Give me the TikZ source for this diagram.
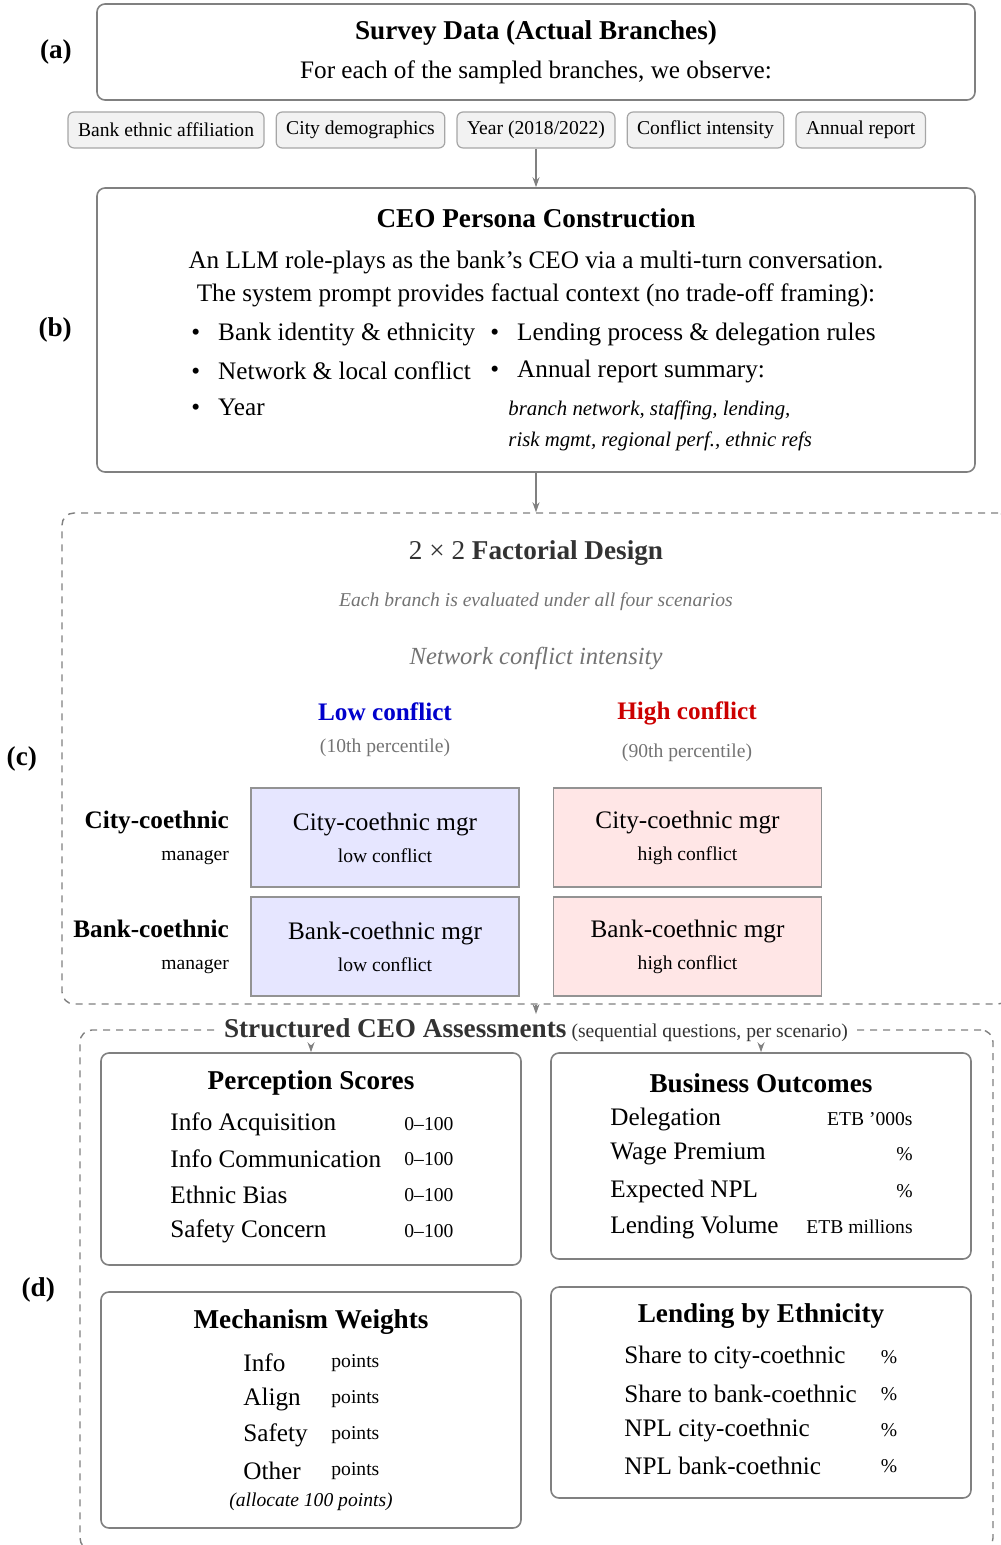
\documentclass[tikz,border=0pt]{standalone}
\usepackage{fontspec}
\setmainfont{Liberation Serif}
\usetikzlibrary{positioning,arrows.meta}
\definecolor{lowblue}{RGB}{0,0,204}
\definecolor{highred}{RGB}{204,0,0}
\definecolor{lowfill}{RGB}{230,230,255}
\definecolor{highfill}{RGB}{255,230,230}
\definecolor{edgegray}{RGB}{128,128,128}
\definecolor{chipfill}{RGB}{242,242,242}
\definecolor{darktext}{RGB}{51,51,51}
\definecolor{softtext}{RGB}{115,115,115}
\newcommand{\titlesize}{\fontsize{13.6}{16}\selectfont}
\newcommand{\bodysize}{\fontsize{12.6}{15}\selectfont}
\newcommand{\notesize}{\fontsize{9.8}{12}\selectfont}
\newcommand{\summsize}{\fontsize{10.4}{12.5}\selectfont}

\begin{document}
\begin{tikzpicture}[x=0.5pt, y=-0.5pt,
    panel/.style={draw=edgegray, line width=0.8pt, rounded corners=4pt},
    chip/.style={draw=edgegray!70, fill=chipfill, line width=0.6pt, rounded corners=3pt, inner xsep=5pt, minimum height=18pt, font=\notesize},
    cell/.style={draw=edgegray!85, line width=0.8pt, minimum width=134pt, minimum height=49.5pt, align=center, font=\bodysize},
    zone/.style={draw=edgegray, dash pattern=on 3.5pt off 3pt, line width=0.7pt, rounded corners=6pt},
    tag/.style={font=\titlesize\bfseries, inner sep=0pt},
    head/.style={font=\titlesize\bfseries, yshift=-1.5pt},
    body/.style={font=\bodysize, yshift=-1pt},
    note/.style={font=\notesize},
    item/.style={font=\bodysize, anchor=west, inner sep=0pt},
    rowlab/.style={font=\bodysize, align=right, inner sep=0pt},
    arr/.style={-{Stealth[length=5pt,width=3.5pt]}, draw=edgegray, line width=0.7pt}]
      \useasboundingbox (0,0) rectangle (1000,1545);

      % Survey data
      \node[panel, minimum width=439pt, minimum height=48pt] (survey) at (536,52) {};
      \node[head] (surveytitle) at (536,30) {Survey Data (Actual Branches)};
      \node[body] (surveytext) at (536,70) {For each of the sampled branches, we observe:};
      \node[tag, left=12pt of survey] (taga) {(a)};

      % Observed inputs
      \node[chip] (chipyear) at (536,130) {Year (2018/2022)};
      \node[chip, left=5.5pt of chipyear] (chipcity) {City demographics};
      \node[chip, left=5.5pt of chipcity] (chipbank) {Bank ethnic affiliation};
      \node[chip, right=5.5pt of chipyear] (chipconf) {Conflict intensity};
      \node[chip, right=5.5pt of chipconf] (chipreport) {Annual report};

      % CEO persona
      \node[panel, minimum width=439pt, minimum height=142pt] (persona) at (536,330) {};
      \node[head] (personatitle) at (536,215) {CEO Persona Construction};
      \node[body] (personaone) at (536,260) {An LLM role-plays as the bank’s CEO via a multi-turn conversation.};
      \node[body] (personatwo) at (536,293) {The system prompt provides factual context (no trade-off framing):};
      \node[item] (itemid) at (191,334) {\textbullet\hspace{9pt}Bank identity \& ethnicity};
      \node[item] (itemnet) at (191,371) {\textbullet\hspace{9pt}Network \& local conflict};
      \node[item] (itemyear) at (191,407) {\textbullet\hspace{9pt}Year};
      \node[item] (itemlend) at (490,334) {\textbullet\hspace{9pt}Lending process \& delegation rules};
      \node[item] (itemrep) at (490,371) {\textbullet\hspace{9pt}Annual report summary:};
      \node[item, font=\summsize\itshape] (repone) at (508,410) {branch network, staffing, lending,};
      \node[item, font=\summsize\itshape] (reptwo) at (508,441) {risk mgmt, regional perf., ethnic refs};
      \node[tag, left=12pt of persona] (tagb) {(b)};

      % Factorial design
      \node[zone, minimum width=474pt, minimum height=245.5pt] (design) at (536,758.5) {};
      \node[tag, left=12pt of design] (tagc) {(c)};
      \node[font=\titlesize, text=darktext] (designtitle) at (536,553) {2 × 2 \textbf{Factorial Design}};
      \node[font=\notesize\itshape, text=softtext] (designnote) at (536,602) {Each branch is evaluated under all four scenarios};
      \node[font=\fontsize{12.3}{15}\selectfont\itshape, text=softtext] (axis) at (536,658) {Network conflict intensity};
      \node[font=\bodysize\bfseries, text=lowblue] (lowhead) at (385,712) {Low conflict};
      \node[font=\bodysize\bfseries, text=highred] (highhead) at (687,713) {High conflict};
      \node[note, text=softtext] (lowpct) at (385,748) {(10th percentile)};
      \node[note, text=softtext] (highpct) at (687,753) {(90th percentile)};

      % Scenario cells
      \node[cell, fill=lowfill] (citylow) at (385,837.5) {City-coethnic mgr\\[1pt]{\notesize low conflict}};
      \node[cell, fill=highfill] (cityhigh) at (687.5,837.5) {City-coethnic mgr\\[1pt]{\notesize high conflict}};
      \node[cell, fill=lowfill] (banklow) at (385,946.5) {Bank-coethnic mgr\\[1pt]{\notesize low conflict}};
      \node[cell, fill=highfill] (bankhigh) at (687.5,946.5) {Bank-coethnic mgr\\[1pt]{\notesize high conflict}};
      \node[rowlab, left=10.5pt of citylow] (cityrow) {\textbf{City-coethnic}\\[1pt]{\notesize manager}};
      \node[rowlab, left=10.5pt of banklow] (bankrow) {\textbf{Bank-coethnic}\\[1pt]{\notesize manager}};

      % Structured assessments
      \node[zone, minimum width=456.5pt, minimum height=260pt] (assess) at (536.5,1290) {};
      \node[fill=white, text=darktext, inner xsep=4pt, inner ysep=2pt] (assesstitle) at (536,1030) {{\titlesize\bfseries Structured CEO Assessments} {\notesize (sequential questions, per scenario)}};
      \node[tag, left=12pt of assess] (tagd) {(d)};

      % Perception scores
      \node[panel, minimum width=210pt, minimum height=106pt] (percep) at (311,1159) {};
      \node[head] (perceptitle) at (311,1080) {Perception Scores};
      \node[item] (pacq) at (170,1124) {Info Acquisition};
      \node[item] (pcom) at (170,1159) {Info Communication};
      \node[item] (pbias) at (170,1195) {Ethnic Bias};
      \node[item] (psafe) at (170,1231) {Safety Concern};
      \node[item, note] (pacqv) at (404,1124) {0–100};
      \node[item, note] (pcomv) at (404,1159) {0–100};
      \node[item, note] (pbiasv) at (404,1195) {0–100};
      \node[item, note] (psafev) at (404,1231) {0–100};

      % Business outcomes
      \node[panel, minimum width=210pt, minimum height=103pt] (outcome) at (761,1156) {};
      \node[head] (outcometitle) at (761,1080) {Business Outcomes};
      \node[item] (odel) at (610,1119) {Delegation};
      \node[item] (owage) at (610,1154) {Wage Premium};
      \node[item] (onpl) at (610,1191) {Expected NPL};
      \node[item] (ovol) at (610,1227) {Lending Volume};
      \node[item, note, anchor=east] (odelv) at (913,1119) {ETB ’000s};
      \node[item, note, anchor=east] (owagev) at (913,1154) {\%};
      \node[item, note, anchor=east] (onplv) at (913,1191) {\%};
      \node[item, note, anchor=east] (ovolv) at (913,1227) {ETB millions};

      % Mechanism weights
      \node[panel, minimum width=210pt, minimum height=118pt] (weights) at (311,1410) {};
      \node[head] (weightstitle) at (311,1319) {Mechanism Weights};
      \node[item] (winfo) at (243,1363) {Info};
      \node[item] (walign) at (243,1399) {Align};
      \node[item] (wsafe) at (243,1435) {Safety};
      \node[item] (wother) at (243,1471) {Other};
      \node[item, note] (winfov) at (331,1363) {points};
      \node[item, note] (walignv) at (331,1399) {points};
      \node[item, note] (wsafev) at (331,1435) {points};
      \node[item, note] (wotherv) at (331,1471) {points};
      \node[font=\notesize\itshape] (wnote) at (311,1502) {(allocate 100 points)};

      % Lending by ethnicity
      \node[panel, minimum width=210pt, minimum height=105.5pt] (lendeth) at (761,1392.5) {};
      \node[head] (lendethtitle) at (761,1313) {Lending by Ethnicity};
      \node[item] (lcity) at (624,1357) {Share to city-coethnic};
      \node[item] (lbank) at (624,1394) {Share to bank-coethnic};
      \node[item] (ncity) at (624,1430) {NPL city-coethnic};
      \node[item] (nbank) at (624,1466) {NPL bank-coethnic};
      \node[note] (lcityv) at (889,1357) {\%};
      \node[note] (lbankv) at (889,1394) {\%};
      \node[note] (ncityv) at (889,1430) {\%};
      \node[note] (nbankv) at (889,1466) {\%};

      % Arrows
      \draw[arr] (chipyear) -- (persona);
      \draw[arr] (persona) -- (design);
      \draw[arr] (design) -- (assesstitle);
      \draw[arr] (assesstitle.south -| percep.north) -- (percep.north);
      \draw[arr] (assesstitle.south -| outcome.north) -- (outcome.north);
    \end{tikzpicture}
\end{document}
